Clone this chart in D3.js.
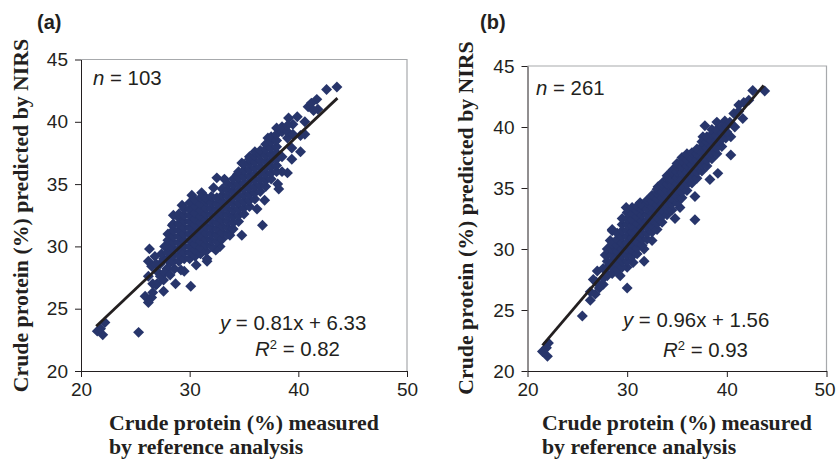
<!DOCTYPE html>
<html>
<head>
<meta charset="utf-8">
<script src="https://cdn.jsdelivr.net/npm/d3@7"></script>
<style>
  html, body { margin: 0; padding: 0; background: #fff; }
  svg { display: block; }
  text { fill: #231f20; }
  .note { font-family: "Liberation Sans", Arial, sans-serif; font-size: 20.4px; }
  .axis-title { font-family: "Liberation Serif", "Times New Roman", serif; font-size: 21.8px; font-weight: bold; }
  .panel-tag { font-family: "Liberation Sans", Arial, sans-serif; font-size: 20px; font-weight: bold; }
</style>
</head>
<body>
<svg id="chart" width="836" height="459"></svg>
<script>
var xTicks = [20, 30, 40, 50];
var yTicks = [20, 25, 30, 35, 40, 45];

// panel (a) outer points, [measured, predicted]
var edgeA = [
  [43.55,42.8],[42.6,42.6],[40.9,41.2],[41.7,41.8],[41.8,41.0],[41.2,41.5],[41.4,40.9],
  [39.1,40.3],[39.9,40.4],[40.6,40.0],[39.5,39.8],[38.0,39.5],[37.2,38.7],[40.6,39.0],[40.2,38.9],
  [39.4,37.9],[40.2,37.6],[39.4,37.0],[39.0,35.9],[38.5,36.0],[38.2,34.6],[38.1,35.0],[36.9,33.7],
  [36.2,33.0],[36.7,31.7],[35.5,37.2],[34.8,36.7],[34.4,35.8],[32.5,35.5],[33.2,35.4],[32.2,34.7],
  [31.1,34.3],[30.2,34.1],[29.3,33.3],[28.5,32.5],[28.4,31.7],[26.3,29.8],[26.2,28.8],[26.8,29.2],
  [27.7,30.0],[26.2,27.6],[27.0,28.0],[27.6,27.3],[27.0,27.0],[27.6,26.4],[28.7,27.0],[30.1,26.8],
  [29.5,28.0],[29.2,28.1],[30.6,28.5],[31.6,29.0],[31.6,28.8],[32.8,30.0],[32.4,29.7],[33.7,30.9],[34.8,30.9],
  [25.9,26.0],[26.5,25.9],[26.2,25.5],[25.3,23.1],[22.2,23.9],[21.5,23.2],[22.0,22.9],[21.8,23.4],
  [26.6,27.0],[27.3,28.6],[27.6,29.0],[27.9,28.2],[28.2,28.7],
  [26.6,26.3],[26.9,26.9],[27.3,27.6],[27.7,27.9],[28.2,27.7],[28.6,28.2],[26.5,28.4],[26.9,28.6],[27.4,29.4]
];

// panel (a) dense middle, one row per measured value: [x, y, y, ...]
var coreA = [
  [28.0,29.0,29.5,30.0,30.5,31.0],
  [28.5,28.8,29.3,29.8,30.3,30.8,31.3,31.8],
  [29.0,28.8,29.3,29.8,30.3,30.8,31.3,31.8,32.3,32.6],
  [29.5,29.0,29.5,30.0,30.5,31.0,31.5,32.0,32.5,33.0],
  [30.0,29.0,29.5,30.0,30.5,31.0,31.5,32.0,32.5,33.0,33.5],
  [30.5,29.2,29.7,30.2,30.7,31.2,31.7,32.2,32.7,33.2,33.7],
  [31.0,29.4,29.9,30.4,30.9,31.4,31.9,32.4,32.9,33.4,33.9],
  [31.5,29.6,30.1,30.6,31.1,31.6,32.1,32.6,33.1,33.6,33.9],
  [32.0,30.0,30.5,31.0,31.5,32.0,32.5,33.0,33.5,34.0],
  [32.5,30.4,30.9,31.4,31.9,32.4,32.9,33.4,33.9],
  [33.0,30.6,31.1,31.6,32.1,32.6,33.1,33.6,34.1,34.6],
  [33.5,31.0,31.5,32.0,32.5,33.0,33.5,34.0,34.5,35.0],
  [34.0,31.4,31.9,32.4,32.9,33.4,33.9,34.4,34.9,35.4],
  [34.5,32.0,32.5,33.0,33.5,34.0,34.5,35.0,35.5,36.0],
  [35.0,32.6,33.1,33.6,34.1,34.6,35.1,35.6,36.1,36.6],
  [35.5,33.2,33.7,34.2,34.7,35.2,35.7,36.2,36.7,37.0],
  [36.0,33.8,34.3,34.8,35.3,35.8,36.3,36.8,37.3,37.6],
  [36.5,34.4,34.9,35.4,35.9,36.4,36.9,37.4,37.7],
  [37.0,34.8,35.3,35.8,36.3,36.8,37.3,37.8,38.2],
  [37.5,35.4,35.9,36.4,36.9,37.4,37.9,38.4,38.8],
  [38.0,36.0,36.5,37.0,37.5,38.0,38.5,39.0],
  [38.5,37.2,39.2,39.6],
  [39.0,38.7,39.2,39.7],
  [39.5,39.0]
];

// panel (b) outer points, [measured, predicted]
var edgeB = [
  [43.8,42.95],[42.6,43.0],[42.2,42.2],[41.2,41.8],[41.7,42.0],[40.7,41.1],[41.6,40.7],[41.2,41.3],
  [40.8,40.0],[39.0,40.4],[39.8,40.5],[37.8,40.1],[37.6,39.2],[40.4,39.2],[39.9,39.1],[39.5,38.4],[40.4,37.7],
  [39.1,36.2],[38.3,35.7],[36.8,34.3],[35.3,33.4],[34.8,32.5],[36.8,32.4],[35.5,37.5],[34.6,36.5],
  [33.1,35.1],[31.3,33.8],[29.9,33.4],[28.5,31.6],[28.5,31.5],[28.3,30.7],[27.8,29.5],[27.0,28.2],
  [26.6,27.5],[27.6,27.1],[26.3,26.5],[26.8,26.3],[26.3,25.8],[30.0,26.8],[29.3,27.8],[30.0,28.5],
  [30.6,28.9],[31.7,29.0],[31.7,30.0],[32.5,30.7],[25.5,24.5],[22.1,22.3],[21.5,21.6],[22.0,21.2],[21.9,21.9],
  [27.2,26.8],[26.9,27.3],[27.6,27.6],[27.6,28.4],[28.0,27.8]
];

// panel (b) dense middle, same layout as coreA
var coreB = [
  [28.0,28.0,28.5,29.0,29.5,30.0],
  [28.5,28.0,28.5,29.0,29.5,30.0,30.4],
  [29.0,28.3,28.8,29.3,29.8,30.3,30.8,31.3],
  [29.5,28.5,29.0,29.5,30.0,30.5,31.0,31.5,32.0,32.5],
  [30.0,29.0,29.5,30.0,30.5,31.0,31.5,32.0,32.5,33.0],
  [30.5,29.4,29.9,30.4,30.9,31.4,31.9,32.4,32.9,33.4],
  [31.0,29.6,30.1,30.6,31.1,31.6,32.1,32.6,33.1,33.5],
  [31.5,30.3,30.8,31.3,31.8,32.3,32.8,33.3,33.6],
  [32.0,30.8,31.3,31.8,32.3,32.8,33.3,33.8,34.0],
  [32.5,31.4,31.9,32.4,32.9,33.4,33.9,34.4],
  [33.0,31.6,32.1,32.6,33.1,33.6,34.1,34.6,34.9],
  [33.5,32.2,32.7,33.2,33.7,34.2,34.7,35.2,35.4],
  [34.0,32.8,33.3,33.8,34.3,34.8,35.3,35.8,36.0],
  [34.5,33.2,33.7,34.2,34.7,35.2,35.7,36.2,36.4],
  [35.0,33.8,34.3,34.8,35.3,35.8,36.3,36.8,37.0],
  [35.5,34.2,34.7,35.2,35.7,36.2,36.7,37.2],
  [36.0,34.8,35.3,35.8,36.3,36.8,37.3,37.8],
  [36.5,35.4,35.9,36.4,36.9,37.4,37.9],
  [37.0,35.8,36.3,36.8,37.3,37.8,38.2],
  [37.5,36.4,36.9,37.4,37.9,38.4,38.8],
  [38.0,36.8,37.3,37.8,38.3,38.8,39.2],
  [38.5,37.4,37.9,38.4,38.9,39.4,39.8],
  [39.0,37.8,38.3,38.8,39.3,39.8],
  [39.5,39.0,39.5,40.0],
  [40.0,39.6,40.1],
  [40.3,40.4]
];

var lineAx = [21.4, 43.6], lineAy = [23.6, 41.9];
var lineBx = [21.5, 43.7], lineBy = [22.1, 43.4];

function unroll(rows) {
  var out = [];
  rows.forEach(function(r) {
    r.slice(1).forEach(function(v) { out.push([r[0], v]); });
  });
  return out;
}

var svg = d3.select("#chart");

function drawPanel(p) {
  var x = d3.scaleLinear().domain([20, 50]).range([p.left, p.right]);
  var y = d3.scaleLinear().domain([20, 45]).range([p.bottom, p.top]);

  var g = svg.append("g");

  // grey frame on top and right
  g.append("path")
    .attr("d", "M" + x(20) + "," + y(45) + "H" + x(50) + "V" + y(20))
    .attr("fill", "none")
    .attr("stroke", "#a7a9ac")
    .attr("stroke-width", 1.2);

  var diamond = d3.symbol().type(d3.symbolSquare).size(60);
  g.selectAll("path.pt")
    .data(p.points)
    .join("path")
    .attr("class", "pt")
    .attr("d", diamond)
    .attr("fill", "#27356b")
    .attr("transform", function(d) {
      return "translate(" + x(d[0]) + "," + y(d[1]) + ") rotate(45)";
    });

  var line = d3.line()
    .x(function(d) { return x(d[0]); })
    .y(function(d) { return y(d[1]); });
  g.append("path")
    .attr("d", line(d3.zip(p.lineX, p.lineY)))
    .attr("fill", "none")
    .attr("stroke", "#231f20")
    .attr("stroke-width", 2.8);

  var xAxis = d3.axisBottom(x).tickValues(xTicks).tickSize(6).tickPadding(6).tickSizeOuter(0);
  var yAxis = d3.axisLeft(y).tickValues(yTicks).tickSize(6).tickPadding(7).tickSizeOuter(0);

  var gx = g.append("g").attr("transform", "translate(0," + p.bottom + ")").call(xAxis);
  var gy = g.append("g").attr("transform", "translate(" + p.left + ",0)").call(yAxis);
  [gx, gy].forEach(function(a) {
    a.selectAll("path, line").attr("stroke", "#231f20").attr("stroke-width", 1);
    a.selectAll("text").style("font-size", "19px").style("font-family", '"Liberation Sans", Arial, sans-serif');
  });
  // keep the last x label inside the window
  gx.selectAll("text").filter(function(d) { return d === 50; }).attr("dx", p.lastTickDx);

  g.append("text").attr("class", "panel-tag").attr("x", p.tagX).attr("y", 29).text(p.tag);

  var n = g.append("text").attr("class", "note").attr("x", p.nX).attr("y", p.nY);
  n.append("tspan").attr("font-style", "italic").text("n");
  n.append("tspan").text(" = " + p.n);

  var eq = g.append("text").attr("class", "note").attr("x", p.eqX).attr("y", p.eqY);
  eq.append("tspan").attr("font-style", "italic").text("y");
  eq.append("tspan").text(" = " + p.eq);

  var r2 = g.append("text").attr("class", "note").attr("x", p.r2X).attr("y", p.r2Y);
  r2.append("tspan").attr("font-style", "italic").text("R");
  r2.append("tspan").attr("dy", -7).style("font-size", "13px").text("2");
  r2.append("tspan").attr("dy", 7).text(" = " + p.r2);

  g.append("text").attr("class", "axis-title").attr("x", p.titleX).attr("y", 430).text("Crude protein (%) measured");
  g.append("text").attr("class", "axis-title").attr("x", p.titleX).attr("y", 453.5).text("by reference analysis");

  g.append("text")
    .attr("class", "axis-title")
    .attr("text-anchor", "middle")
    .attr("transform", "translate(" + p.yTitleX + "," + p.yTitleY + ") rotate(-90)")
    .text("Crude protein (%) predicted by NIRS");
}

drawPanel({
  tag: "(a)", tagX: 37, points: edgeA.concat(unroll(coreA)), lineX: lineAx, lineY: lineAy,
  left: 81, right: 407, top: 59.5, bottom: 371, lastTickDx: 0,
  n: "103", nX: 93, nY: 85,
  eq: "0.81x + 6.33", eqX: 220, eqY: 330,
  r2: "0.82", r2X: 255, r2Y: 356,
  titleX: 109, yTitleX: 28, yTitleY: 215.5
});

drawPanel({
  tag: "(b)", tagX: 480, points: edgeB.concat(unroll(coreB)), lineX: lineBx, lineY: lineBy,
  left: 527.5, right: 826.5, top: 66, bottom: 371, lastTickDx: -2,
  n: "261", nX: 536, nY: 95,
  eq: "0.96x + 1.56", eqX: 623, eqY: 327,
  r2: "0.93", r2X: 663, r2Y: 357,
  titleX: 542, yTitleX: 473, yTitleY: 218
});
</script>
</body>
</html>
